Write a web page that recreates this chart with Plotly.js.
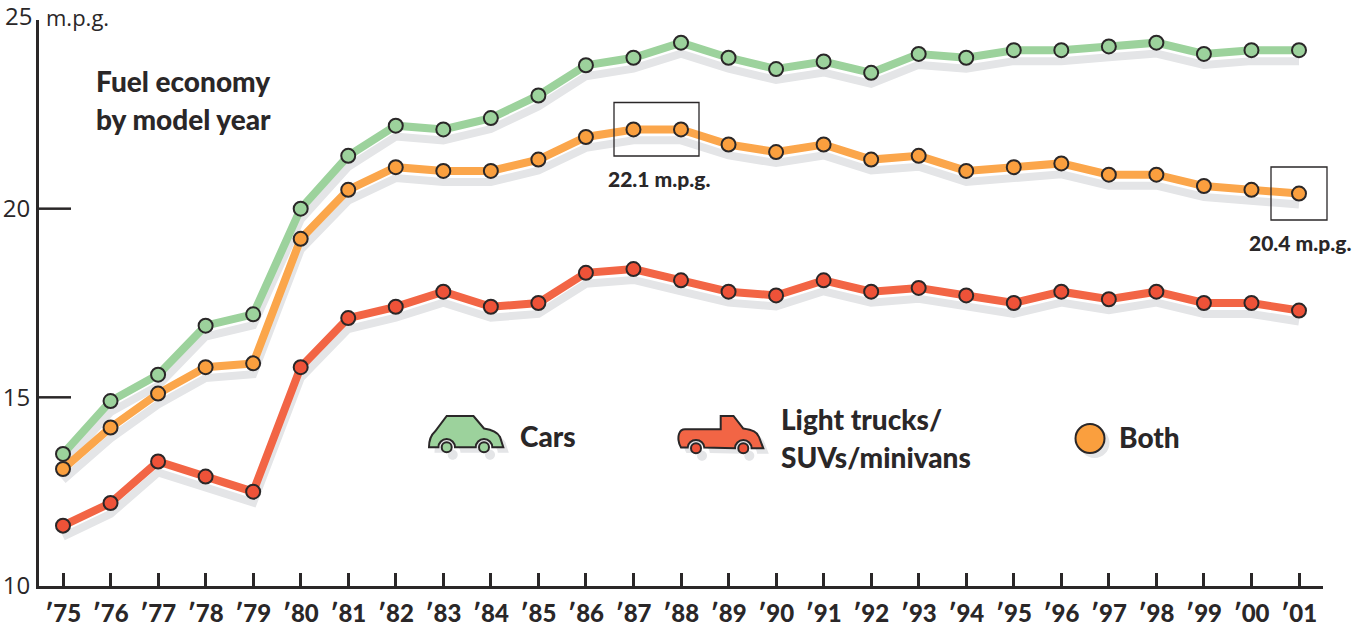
<!DOCTYPE html>
<html><head><meta charset="utf-8">
<script src="https://cdn.plot.ly/plotly-3.0.1.min.js"></script>
<style>html,body{margin:0;padding:0;background:#fff}#c{width:1357px;height:628px}</style></head>
<body><div id="c"></div>
<script>
const years=[1975,1976,1977,1978,1979,1980,1981,1982,1983,1984,1985,1986,1987,1988,1989,1990,1991,1992,1993,1994,1995,1996,1997,1998,1999,2000,2001];
const yearLabels=["′75","′76","′77","′78","′79","′80","′81","′82","′83","′84","′85","′86","′87","′88","′89","′90","′91","′92","′93","′94","′95","′96","′97","′98","′99","′00","′01"];
const cars=[13.5,14.9,15.6,16.9,17.2,20.0,21.4,22.2,22.1,22.4,23.0,23.8,24.0,24.4,24.0,23.7,23.9,23.6,24.1,24.0,24.2,24.2,24.3,24.4,24.1,24.2,24.2];
const both=[13.1,14.2,15.1,15.8,15.9,19.2,20.5,21.1,21.0,21.0,21.3,21.9,22.1,22.1,21.7,21.5,21.7,21.3,21.4,21.0,21.1,21.2,20.9,20.9,20.6,20.5,20.4];
const trucks=[11.6,12.2,13.3,12.9,12.5,15.8,17.1,17.4,17.8,17.4,17.5,18.3,18.4,18.1,17.8,17.7,18.1,17.8,17.9,17.7,17.5,17.8,17.6,17.8,17.5,17.5,17.3];
const yTicks=[10,15,20,25];
const yTickText=['10','15','20',''];
const INK='#2a2728', SHADOW='#e4e5e7';
const GREEN='#9cd29c', ORANGE='#fba64b', RED='#f26545', REDDOT='#ee5238', ORANGEDOT='#fa9f3e';
const L=39,T=20,R=1323,B=586,PW=R-L,PH=B-T;
const ax=p=>(p-L)/PW, ay=p=>(B-p)/PH;
const SANS='"Open Sans","Noto Sans",sans-serif', COND='Lato,"Liberation Sans",sans-serif';
const shadowOffset=0.29;
function shadow(v){return {x:years,y:v.map(a=>a-shadowOffset),mode:'lines',line:{color:SHADOW,width:8,shape:'linear'},hoverinfo:'skip',showlegend:false};}
function series(name,v,c,d){return {name,x:years,y:v,mode:'lines+markers',line:{color:c,width:8},marker:{size:14,color:d,line:{color:INK,width:2}},showlegend:false};}
const traces=[shadow(trucks),shadow(both),shadow(cars),series('Light trucks/SUVs/minivans',trucks,RED,REDDOT),series('Both',both,ORANGE,ORANGEDOT),series('Cars',cars,GREEN,GREEN)];
function pathShape(d,fill,lineColor,lw,dx,dy){
  dx=dx||0;dy=dy||0;
  const path=d.replace(/(-?[\d.]+),(-?[\d.]+)/g,(m,x,y)=>(+x+dx)+','+(-(+y+dy)));
  return {type:'path',xref:'paper',yref:'paper',xsizemode:'pixel',ysizemode:'pixel',xanchor:ax(0),yanchor:ay(0),path,fillcolor:fill,line:{color:lineColor||'rgba(0,0,0,0)',width:lw||0},layer:'above'};
}
function circ(cx,cy,r){const k=r*0.5523;return `M${cx-r},${cy} C${cx-r},${cy-k} ${cx-k},${cy-r} ${cx},${cy-r} C${cx+k},${cy-r} ${cx+r},${cy-k} ${cx+r},${cy} C${cx+r},${cy+k} ${cx+k},${cy+r} ${cx},${cy+r} C${cx-k},${cy+r} ${cx-r},${cy+k} ${cx-r},${cy} Z`;}
const carBody=`M429,447.3 C429,440 431,435 435,431.5 L446.7,416 L473.5,416 L484,428.5 C494,430 498,433 500,437 L503.3,447.3 L492.3,447.3 C492.3,442.7 488.6,439 484,439 C479.4,439 475.7,442.7 475.7,447.3 L455,447.3 C455,442.7 451.3,439 446.7,439 C442.1,439 438.4,442.7 438.4,447.3 Z`;
const truckBody=`M681,447.5 C678,443 678,437 679,434 C680,431 682,429.3 685,429.3 L720.7,429.3 L720.7,416 L733.5,416 L743.3,428.5 C753,430 757,432 759,437 L763.3,448.3 L751.6,448.3 C751.6,443.7 747.9,440 743.3,440 C738.7,440 735,443.7 735,448.3 L704.3,447.5 C704.3,443.3 700.6,440 696,440 C691.4,440 687.7,443.3 687.7,447.5 Z`;
const carWheels=[[446.7,447.3],[484,447.3]], truckWheels=[[696,448.3],[743.3,448.3]];
const shapes=[];
[20,15].forEach(v=>shapes.push({type:'line',xref:'paper',yref:'y',x0:0,x1:ax(71),y0:v,y1:v,line:{color:INK,width:2.5},layer:'above'}));
function box(x0,y0,x1,y1){shapes.push({type:'rect',xref:'paper',yref:'paper',x0:ax(x0),x1:ax(x1),y0:ay(y0),y1:ay(y1),line:{color:'#2a2728',width:1.3},fillcolor:'rgba(0,0,0,0)',layer:'above'});}
box(614,102.5,699,156);box(1271,167,1327,220);
[[carBody,carWheels,GREEN],[truckBody,truckWheels,RED]].forEach(([b,w,c])=>{
  shapes.push(pathShape(b,SHADOW,null,0,5.5,5.5));
  w.forEach(p=>shapes.push(pathShape(circ(p[0]+6,p[1]+7.5,5),SHADOW,null,0)));
  shapes.push(pathShape(b,c,INK,2));
  w.forEach(p=>shapes.push(pathShape(circ(p[0],p[1],5),c===RED?REDDOT:c,INK,2)));
});
shapes.push(pathShape(circ(1094.5,443,15),SHADOW,null,0));
shapes.push(pathShape(circ(1090,438.5,14.5),ORANGEDOT,INK,2));
function txt(text,x,y,size,opts){opts=opts||{};return {text,xref:'paper',yref:'paper',x:ax(x),y:ay(y),xanchor:opts.anchor||'left',yanchor:'middle',showarrow:false,align:opts.anchor==='center'?'center':'left',font:{family:opts.family||COND,size,color:INK,weight:opts.weight===undefined?900:opts.weight}};}
const annotations=[
 txt('25',3,16,24,{family:SANS,weight:400}),
 txt('m.p.g.',44,17,22,{family:SANS,weight:400}),
 txt('Fuel economy',94,81,28),
 txt('by model year',94,119,28),
 txt('22.1 m.p.g.',659,178,21,{anchor:'center'}),
 txt('20.4 m.p.g.',1300,242,21,{anchor:'center'}),
 txt('Cars',518,436,28),
 txt('Light trucks/',779,419,28),
 txt('SUVs/minivans',779,457,28),
 txt('Both',1117,437,28)
];
const layout={width:1357,height:628,margin:{l:L,r:1357-R,t:T,b:628-B,pad:0},paper_bgcolor:'#fff',plot_bgcolor:'#fff',showlegend:false,
 xaxis:{range:[1975-24/47.54,2001+24/47.54],tickmode:'array',tickvals:years,ticktext:yearLabels,ticks:'inside',ticklen:13,tickwidth:2.5,tickcolor:INK,showgrid:false,zeroline:false,showline:true,linecolor:INK,linewidth:3,tickfont:{family:COND,size:24,color:INK,weight:900},ticklabelstandoff:4},
 yaxis:{range:[10,25],tickmode:'array',tickvals:yTicks,ticktext:yTickText,ticks:'',showgrid:false,zeroline:false,showline:true,linecolor:INK,linewidth:3,tickfont:{family:SANS,size:24,color:INK},ticklabelstandoff:1},
 shapes,annotations,hovermode:'closest'};
Plotly.newPlot('c',traces,layout,{displayModeBar:false});
</script></body></html>
